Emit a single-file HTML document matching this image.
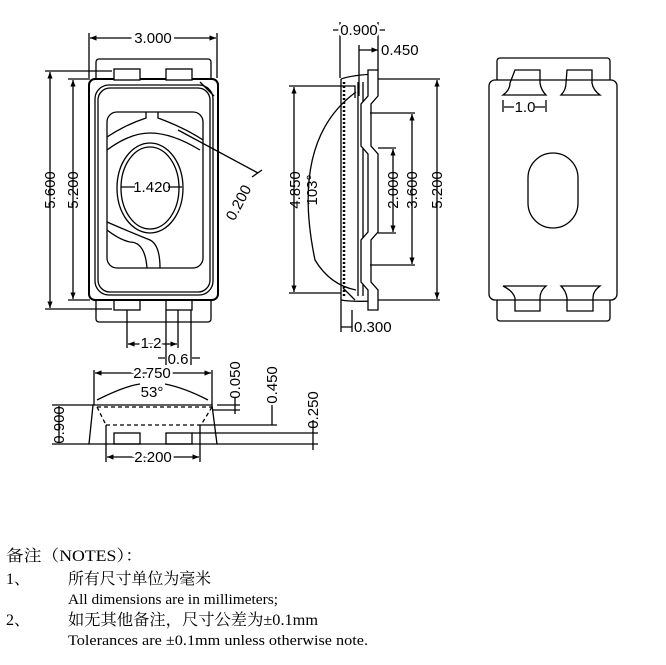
<!DOCTYPE html>
<html><head><meta charset="utf-8"><style>
html,body{margin:0;padding:0;background:#fff;}
svg{display:block}
.t{font-family:"Liberation Sans Narrow","Liberation Sans",sans-serif;font-size:15px;fill:#000}
.n{font-family:"Liberation Serif","Noto Serif CJK SC",serif;fill:#000}
</style></head><body>
<svg width="666" height="665" viewBox="0 0 666 665" xmlns="http://www.w3.org/2000/svg">
<defs>
<marker id="a" viewBox="0 0 10 10" refX="10" refY="5" markerWidth="5" markerHeight="5" orient="auto-start-reverse"><path d="M0,1 L10,5 L0,9z" fill="#000"/></marker>
</defs>
<g fill="none" stroke="#000" stroke-width="1.3">
<!-- FRONT VIEW -->
<rect x="96" y="59" width="115" height="263" rx="3"/>
<rect x="89" y="79" width="129" height="221" rx="6" fill="#fff" stroke-width="2"/>
<rect x="95" y="85" width="118" height="210" rx="14"/>
<rect x="98" y="88" width="112" height="204" rx="12"/>
<rect x="107" y="112" width="96" height="156" rx="10"/>
<ellipse cx="150" cy="188" rx="33" ry="45"/>
<ellipse cx="150" cy="188" rx="29" ry="41"/>
<rect x="114" y="69" width="26" height="11" fill="#fff"/>
<rect x="166" y="69" width="26" height="11" fill="#fff"/>
<rect x="114" y="300" width="26" height="10"/>
<rect x="166" y="300" width="26" height="10"/>
<path d="M107,137 Q125,125 146,118 V112 M158,112 V118 Q185,128 203,140"/>
<path d="M107,150 Q130,133 150,133 Q172,133 200,150"/>
<path d="M107,230 Q120,240 130,242 Q145,242 147,268 M160,268 Q160,245 150,240 Q130,232 107,222"/>
<path d="M200,82 L214,96"/>
<path d="M178,130 L258,173 M252,177 L262,170"/>
<!-- front dims -->
<path d="M89,33 V78 M217,33 V78"/>
<path d="M90,38 H216" marker-start="url(#a)" marker-end="url(#a)"/>
<path d="M45,71 H112 M45,309 H112"/>
<path d="M50,72 V308" marker-start="url(#a)" marker-end="url(#a)"/>
<path d="M68,79 H90 M68,300 H90"/>
<path d="M73,80 V299" marker-start="url(#a)" marker-end="url(#a)"/>
<path d="M121,187 H135 M168,187 H182" />
<path d="M127,310 V348 M178,310 V348 M166,310 V365 M191,310 V365"/>
<path d="M128,344 H177" marker-start="url(#a)" marker-end="url(#a)"/>
<path d="M158,358 H165 M192,358 H200" />
<!-- SIDE VIEW -->
<path d="M341,79 V300 M341,79 Q352,75 376,74 M341,300 Q352,302 376,301"/>
<path d="M344,82 V298" stroke-dasharray="2,2" stroke-width="2.5"/>
<path d="M358,82 V296 M363,82 V296"/>
<path d="M341,86 H355 L355,98 M343,288 L355,300"/>
<path d="M368,70 H378 V96 L371,104 V146 L378,154 V232 L371,240 V282 L378,290 V310 H368 V290 L361,282 V240 L368,232 V154 L361,146 V104 L368,96 Z" fill="#fff"/>
<path d="M378,79 H440 M378,300 H440 M370,113 H415 M370,265 H415 M378,148 H396 M378,233 H396 M289,86 H341 M289,293 H341"/>
<path d="M437,80 V299" marker-start="url(#a)" marker-end="url(#a)"/>
<path d="M412,114 V264" marker-start="url(#a)" marker-end="url(#a)"/>
<path d="M393,149 V232" marker-start="url(#a)" marker-end="url(#a)"/>
<path d="M294,87 V292" marker-start="url(#a)" marker-end="url(#a)"/>
<path d="M356,92 Q290,140 315,260 Q330,285 356,290" />
<path d="M340,22 V78 M378,22 V70 M359,45 V96"/>
<path d="M333,30 H340 M378,30 H385" />
<path d="M359,50 H378" marker-end="url(#a)"/>
<path d="M341,300 V332 M352,310 V332 M341,327 H352"/>
<!-- BOTTOM VIEW -->
<rect x="497" y="58" width="113" height="263" rx="3"/>
<rect x="489" y="80" width="128" height="220" rx="6" fill="#fff"/>
<path d="M515,70 H540 V83 Q541,90 546,95 H503 Q510,90 510,83 Z"/>
<path d="M567,70 H592 V83 Q593,90 600,95 H561 Q566,90 566,83 Z"/>
<path d="M503,286 H546 Q540,291 540,298 V311 H515 V298 Q513,291 503,286 Z"/>
<path d="M561,286 H600 Q593,291 593,298 V311 H567 V298 Q566,291 561,286 Z"/>
<rect x="528" y="153" width="50" height="75" rx="25"/>
<path d="M503,100 V112 M546,100 V112 M504,107 H514 M535,107 H545"/>
<!-- EDGE VIEW -->
<path d="M93,405 H212 L217,444 H89 Z"/>
<path d="M97,407 H212 M106,425 H201 M97,407 L106,425 M212,407 L201,425" stroke-dasharray="4,3"/>
<rect x="114" y="433" width="26" height="11"/>
<rect x="166" y="433" width="26" height="11"/>
<path d="M94,370 V405 M212,370 V405"/>
<path d="M95,373 H211" marker-start="url(#a)" marker-end="url(#a)"/>
<path d="M97,400 Q125,386 140,384 M165,384 Q185,388 208,400"/>
<path d="M52,405 H93 M52,444 H89 M59,406 V443"/>
<path d="M217,405 H240 M212,410 H240 M235,398 V414"/>
<path d="M201,425 H277 M272,405 V425"/>
<path d="M192,433 H318 M217,444 H318 M313,420 V450"/>
<path d="M106,425 V462 M200,425 V462"/>
<path d="M107,457 H199" marker-start="url(#a)" marker-end="url(#a)"/>
</g>
<g class="t">
<text x="153" y="43" text-anchor="middle" style="paint-order:stroke" stroke="#fff" stroke-width="6">3.000</text>
<text transform="translate(55,190) rotate(-90)" text-anchor="middle">5.600</text>
<text transform="translate(78,190) rotate(-90)" text-anchor="middle">5.200</text>
<text x="152" y="192" text-anchor="middle">1.420</text>
<text transform="translate(243,205) rotate(-62)" text-anchor="middle">0.200</text>
<text x="151" y="348" text-anchor="middle" stroke="#fff" stroke-width="5" style="paint-order:stroke">1.2</text>
<text x="178" y="364" text-anchor="middle">0.6</text>
<text x="359" y="35" text-anchor="middle" stroke="#fff" stroke-width="5" style="paint-order:stroke">0.900</text>
<text x="381" y="55">0.450</text>
<text x="354" y="332">0.300</text>
<text transform="translate(300,190) rotate(-90)" text-anchor="middle">4.850</text>
<text transform="translate(317,190) rotate(-90)" text-anchor="middle">103°</text>
<text transform="translate(398,190) rotate(-90)" text-anchor="middle">2.000</text>
<text transform="translate(417,190) rotate(-90)" text-anchor="middle">3.600</text>
<text transform="translate(442,190) rotate(-90)" text-anchor="middle">5.200</text>
<text x="525" y="112" text-anchor="middle">1.0</text>
<text x="152" y="378" text-anchor="middle" stroke="#fff" stroke-width="5" style="paint-order:stroke">2.750</text>
<text x="152" y="397" text-anchor="middle">53°</text>
<text transform="translate(64,425) rotate(-90)" text-anchor="middle">0.900</text>
<text transform="translate(240,380) rotate(-90)" text-anchor="middle">0.050</text>
<text transform="translate(277,385) rotate(-90)" text-anchor="middle">0.450</text>
<text transform="translate(318,410) rotate(-90)" text-anchor="middle">0.250</text>
<text x="153" y="462" text-anchor="middle" stroke="#fff" stroke-width="5" style="paint-order:stroke">2.200</text>
</g>
<g class="n">
<text x="6" y="561" font-size="16" textLength="137" lengthAdjust="spacingAndGlyphs">备注（NOTES）：</text>
<text x="6" y="584" font-size="16">1、</text>
<text x="68" y="584" font-size="16" textLength="143" lengthAdjust="spacingAndGlyphs">所有尺寸单位为毫米</text>
<text x="68" y="604" font-size="15" textLength="210" lengthAdjust="spacingAndGlyphs">All dimensions are in millimeters;</text>
<text x="6" y="625" font-size="16">2、</text>
<text x="68" y="625" font-size="16" textLength="250" lengthAdjust="spacingAndGlyphs">如无其他备注，尺寸公差为±0.1mm</text>
<text x="68" y="645" font-size="15" textLength="300" lengthAdjust="spacingAndGlyphs">Tolerances are  ±0.1mm unless otherwise note.</text>
</g>
</svg>
</body></html>
